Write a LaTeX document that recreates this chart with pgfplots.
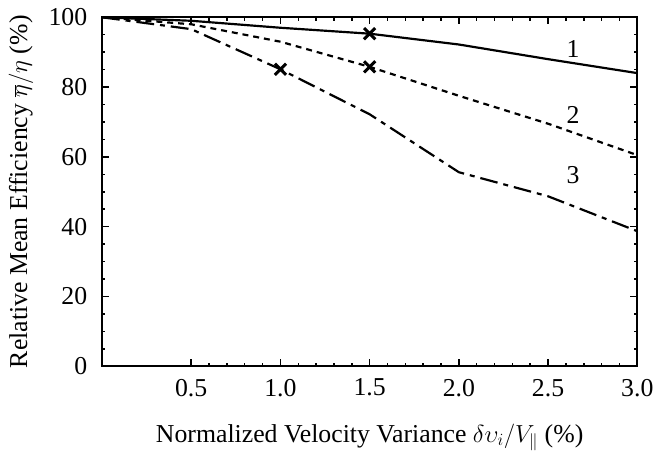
\documentclass[border=0pt]{standalone}
\usepackage{fontspec}
\setmainfont{Liberation Serif}
\usepackage{pgfplots}
\pgfplotsset{compat=1.18}
\begin{document}
\fontsize{26}{30}\selectfont
\begin{tikzpicture}
\begin{axis}[
  scale only axis,
  width=540pt, height=352pt,
  xmin=0, xmax=3, ymin=0, ymax=100,
  xtick={0.5,1.0,1.5,2.0,2.5,3.0},
  xticklabels={0.5,1.0,1.5,2.0,2.5,3.0},
  ytick={0,20,40,60,80,100},
  minor x tick num=4,
  minor y tick num=3,
  tick align=inside,
  major tick length=7pt,
  minor tick length=3.5pt,
  every tick/.style={line width=1.5pt, black},
  axis line style={line width=2.4pt},
  /pgf/number format/assume math mode=true,
  ticklabel style={font=\fontsize{26}{30}\selectfont},
  xticklabel style={yshift=-4pt},
  yticklabel style={xshift=-6pt},
  label style={font=\fontsize{26}{30}\selectfont},
  xlabel={Normalized Velocity Variance $\delta\upsilon_i/V_\parallel$ (\%)},
  ylabel={Relative Mean Efficiency $\overline{\eta}/\eta$ (\%)},
  xlabel style={yshift=-10pt},
  ylabel style={yshift=-2pt},
  clip=false,
]
\addplot[black, line width=2.2pt] coordinates {(0,100) (0.5,99) (1.0,97) (1.5,95.3) (2.0,92.2) (2.5,88) (3.0,84)};
\addplot[black, line width=2.2pt, dash pattern=on 6pt off 5pt] coordinates {(0,100) (0.5,98) (1.0,93) (1.5,85.8) (2.0,77.5) (2.5,69.5) (3.0,60.5)};
\addplot[black, line width=2.2pt, dash pattern=on 18pt off 6pt on 5pt off 6pt] coordinates {(0,100) (0.5,96.6) (1.0,85.1) (1.5,72.2) (2.0,55.6) (2.5,48.7) (3.0,38.7)};
\addplot[only marks, mark=x, mark size=8pt, mark options={line width=3pt, black}] coordinates {(1.5,95.3) (1.5,85.8) (1.0,85.1)};
\node[font=\fontsize{26}{30}\selectfont] at (axis cs:2.64,90.8) {1};
\node[font=\fontsize{26}{30}\selectfont] at (axis cs:2.64,71.9) {2};
\node[font=\fontsize{26}{30}\selectfont] at (axis cs:2.64,54.7) {3};
\end{axis}
\end{tikzpicture}
\end{document}
